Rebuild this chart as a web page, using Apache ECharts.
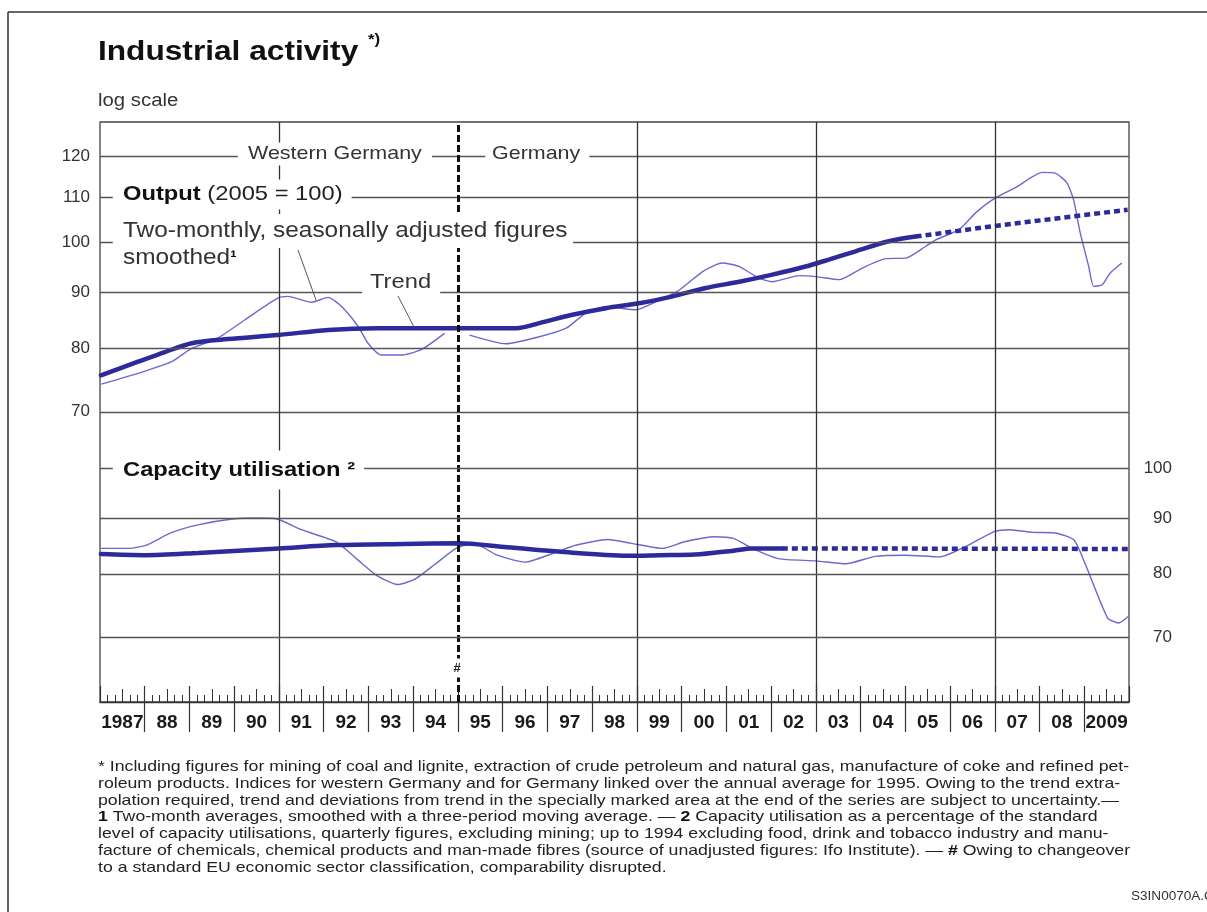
<!DOCTYPE html>
<html>
<head>
<meta charset="utf-8">
<script src="https://cdn.jsdelivr.net/npm/echarts@6/dist/echarts.min.js"></script>
<style>
html,body{margin:0;padding:0;background:#fff;}
#chart{width:1207px;height:912px;}
</style>
</head>
<body>
<div id="chart"></div>
<script>
// ---------------- data ----------------
const yearLabels = ['1987','88','89','90','91','92','93','94','95','96','97','98','99','00','01','02','03','04','05','06','07','08','2009'];
const outputTicks = [70, 80, 90, 100, 110, 120];
const capacityTicks = [70, 80, 90, 100];
const verticalGridYears = [1991, 1999, 2003, 2007];
const breakYear = 1995;

// Output, two-monthly smoothed (log scale, 2005 = 100)
const outThinYears = [1987.03,1987.85,1988.60,1989.05,1989.64,1990.24,1990.98,1991.20,1991.73,1992.10,1992.40,1992.77,1992.99,1993.29,1993.73,1994.18,1994.70,1995.00,1995.26,1996.08,1996.82,1997.42,1997.86,1998.31,1998.98,1999.43,1999.95,2000.47,2000.91,2001.29,2001.73,2002.03,2002.63,2003.00,2003.52,2004.04,2004.56,2005.01,2005.45,2005.68,2006.20,2006.57,2006.98,2007.46,2008.06,2008.35,2008.61,2008.76,2008.91,2009.10,2009.21,2009.40,2009.58,2009.84];
const outThinValues = [74.2,75.9,77.8,80.0,81.8,85.0,89.0,89.3,88.2,89.1,87.4,83.8,80.9,78.9,78.9,79.8,82.6,null,82.3,80.8,82.0,83.5,86.2,87.4,86.8,88.3,90.5,94.1,95.8,95.1,92.8,92.1,93.3,93.1,92.5,94.8,96.7,96.8,99.2,100.6,102.8,106.5,109.7,112.3,116.0,115.8,113.5,109.5,102.1,95.1,91.2,91.5,93.8,95.8];

// Output trend
const outTrendYears = [1987.02,1987.85,1988.45,1989.05,1989.86,1990.98,1992.10,1993.21,1994.33,1995.33,1996.30,1996.82,1997.56,1998.31,1999.05,1999.80,2000.54,2001.29,2002.03,2002.77,2003.29,2003.89,2004.63,2005.23];
const outTrendValues = [75.6,77.8,79.4,80.9,81.6,82.3,83.2,83.5,83.5,83.5,83.5,84.4,85.9,87.1,88.0,89.3,90.9,92.1,93.5,95.1,96.5,98.2,100.3,101.3];
// Output trend, extrapolated (uncertain area)
const outExtYears = [2005.23,2007.0,2009.97];
const outExtValues = [101.3,103.6,107.2];

// Capacity utilisation, quarterly
const capThinYears = [1987.02,1987.65,1988.04,1988.58,1989.19,1989.96,1990.5,1990.96,1991.5,1992.27,1992.73,1993.19,1993.65,1994.04,1994.5,1994.96,1995.35,1995.88,1996.5,1997.12,1997.65,1998.35,1998.88,1999.57,2000.07,2000.74,2001.16,2001.58,2002.16,2003.0,2003.67,2004.33,2005.0,2005.76,2006.34,2007.0,2007.34,2007.85,2008.35,2008.77,2009.02,2009.52,2009.77,2009.98];
const capThinValues = [84.4,84.4,85.0,87.2,88.7,89.8,90.0,89.8,87.8,85.6,82.6,79.7,78.2,79.1,81.7,84.4,85.3,83.2,82.0,83.5,85.0,86.0,85.3,84.4,85.6,86.5,86.2,84.4,82.6,82.2,81.7,83.0,83.2,82.9,84.7,87.5,87.8,87.3,87.2,85.9,81.7,72.9,72.1,73.1];

// Capacity utilisation trend
const capTrendYears = [1987.02,1988.0,1989.19,1991.0,1992.27,1993.8,1995.0,1996.1,1997.65,1998.88,1999.5,2000.3,2001.16,2001.58,2002.24];
const capTrendValues = [83.4,83.2,83.6,84.4,85.0,85.2,85.3,84.6,83.6,83.1,83.2,83.3,84.0,84.4,84.4];
const capExtYears = [2002.24,2009.98];
const capExtValues = [84.4,84.3];

// ---------------- helpers ----------------
const zip = (xs, ys) => xs.map((x, i) => [x, ys[i]]);
const FIRST_YEAR = 1987, LAST_YEAR = 2010;
const sepValues = [], midValues = [];
for (let i = 0; i < yearLabels.length; i++) {
  if (i > 0) sepValues.push(FIRST_YEAR + i);
  midValues.push(FIRST_YEAR + i + 0.5);
}

const FONT = '"Liberation Sans", Arial, Helvetica, sans-serif';
const THIN = '#6c68cf';
const THICK = '#2d2b9c';
const GRID = '#555';
const SX = 1.13; // horizontal stretch of the reference typography

// x = where the visible text starts; the white box extends by the padding around it
function txt(x, y, text, size, opts) {
  opts = opts || {};
  const sx = opts.sx || SX;
  const pad = opts.pad || [0, 0, 0, 0];
  const style = {
    text: text, x: 0, y: 0,
    fontFamily: FONT, fontSize: size, fontWeight: opts.weight || 'normal',
    fill: opts.color || '#222',
    align: opts.align || 'left', textAlign: opts.align || 'left',
    verticalAlign: opts.valign || 'middle', textVerticalAlign: opts.valign || 'middle'
  };
  let ox = 0, oy = 0;
  if (opts.bg) {
    style.backgroundColor = '#fff'; style.padding = pad;
    if ((opts.align || 'left') === 'left') ox = pad[3] * sx;
    oy = (pad[0] - pad[2]) / 2;
  }
  if (opts.rich) style.rich = opts.rich;
  if (opts.lineHeight) style.lineHeight = opts.lineHeight;
  return { type: 'text', x: x - ox, y: y - oy, scaleX: sx, z: 100, silent: true, style: style };
}
function seg(x1, y1, x2, y2, color, w) {
  return { type: 'line', z: 100, silent: true, shape: { x1, y1, x2, y2 }, style: { stroke: color || '#555', lineWidth: w || 1 } };
}

const footnote = [
  '* Including figures for mining of coal and lignite, extraction of crude petroleum and natural gas, manufacture of coke and refined pet-',
  'roleum products. Indices for western Germany and for Germany linked over the annual average for 1995. Owing to the trend extra-',
  'polation required, trend and deviations from trend in the specially marked area at the end of the series are subject to uncertainty.\u2014',
  '{b|1} Two-month averages, smoothed with a three-period moving average. \u2014 {b|2} Capacity utilisation as a percentage of the standard',
  'level of capacity utilisations, quarterly figures, excluding mining; up to 1994 excluding food, drink and tobacco industry and manu-',
  'facture of chemicals, chemical products and man-made fibres (source of unadjusted figures: Ifo Institute). \u2014 {b|#} Owing to changeover',
  'to a standard EU economic sector classification, comparability disrupted.'
].join('\n');

const chart = echarts.init(document.getElementById('chart'), null, { renderer: 'canvas' });

const option = {
  animation: false,
  backgroundColor: '#fff',
  grid: { left: 100, right: 78, top: 122, bottom: 210, show: true, borderColor: '#444', borderWidth: 1.3, backgroundColor: 'transparent' },
  xAxis: [
    {
      type: 'value', min: FIRST_YEAR, max: LAST_YEAR, interval: 1, position: 'bottom',
      axisLine: { show: true, onZero: false, lineStyle: { color: '#333', width: 1.3 } },
      axisTick: { show: true, inside: true, length: 16, lineStyle: { color: '#333', width: 1.2 } },
      minorTick: { show: true, splitNumber: 6, length: 7, lineStyle: { color: '#333', width: 1 } },
      axisLabel: { show: false }, splitLine: { show: false }, minorSplitLine: { show: false }
    },
    {
      type: 'value', min: FIRST_YEAR, max: LAST_YEAR, position: 'bottom',
      axisLine: { show: false, onZero: false },
      axisTick: { show: true, inside: false, length: 30, customValues: sepValues, lineStyle: { color: '#333', width: 1.2 } },
      axisLabel: {
        show: true, customValues: midValues, margin: 11,
        formatter: v => yearLabels[Math.round(v - FIRST_YEAR - 0.5)],
        fontFamily: FONT, fontSize: 19, fontWeight: 'bold', color: '#1a1a1a'
      },
      splitLine: { show: false }
    },
    {
      type: 'value', min: FIRST_YEAR, max: LAST_YEAR, position: 'bottom',
      axisLine: { show: false, onZero: false },
      axisTick: { show: true, inside: true, length: 13, customValues: midValues, lineStyle: { color: '#333', width: 1 } },
      axisLabel: { show: false }, splitLine: { show: false }
    }
  ],
  yAxis: [
    { type: 'log', min: 37.95, max: 129.0, show: false, splitLine: { show: false } },
    { type: 'log', min: 61.04, max: 207.5, position: 'right', show: false, splitLine: { show: false } }
  ],
  series: [
    {
      name: 'grid-output', type: 'line', xAxisIndex: 0, yAxisIndex: 0, z: 1, silent: true,
      data: [[FIRST_YEAR, 100]], symbol: 'none', lineStyle: { opacity: 0 },
      markLine: {
        silent: true, symbol: ['none', 'none'], animation: false,
        label: { show: true, position: 'start', distance: 10, formatter: p => String(p.value), fontFamily: FONT, fontSize: 17, color: '#333' },
        lineStyle: { color: GRID, width: 1.3, type: 'solid' },
        emphasis: { disabled: true },
        data: outputTicks.map(v => ({ yAxis: v }))
          .concat(verticalGridYears.map(v => ({ xAxis: v, label: { show: false }, lineStyle: { color: '#333', width: 1.3, type: 'solid' } })))
          .concat([{ xAxis: breakYear, label: { show: false }, lineStyle: { color: '#111', width: 3, type: [7, 3] } }])
      }
    },
    {
      name: 'grid-capacity', type: 'line', xAxisIndex: 0, yAxisIndex: 1, z: 1, silent: true,
      data: [[FIRST_YEAR, 80]], symbol: 'none', lineStyle: { opacity: 0 },
      markLine: {
        silent: true, symbol: ['none', 'none'], animation: false,
        label: { show: true, position: 'end', distance: 43, align: 'right', formatter: p => String(p.value), fontFamily: FONT, fontSize: 17, color: '#333' },
        lineStyle: { color: GRID, width: 1.3, type: 'solid' },
        emphasis: { disabled: true },
        data: capacityTicks.map(v => ({ yAxis: v }))
      }
    },
    {
      name: 'Output, two-monthly', type: 'line', xAxisIndex: 0, yAxisIndex: 0, z: 3,
      data: zip(outThinYears, outThinValues), symbol: 'none', smooth: 0.2, connectNulls: false,
      lineStyle: { color: THIN, width: 1.4 }
    },
    {
      name: 'Output trend', type: 'line', xAxisIndex: 0, yAxisIndex: 0, z: 4,
      data: zip(outTrendYears, outTrendValues), symbol: 'none', smooth: 0.3,
      lineStyle: { color: THICK, width: 4.5, cap: 'round' }
    },
    {
      name: 'Output trend (extrapolated)', type: 'line', xAxisIndex: 0, yAxisIndex: 0, z: 4,
      data: zip(outExtYears, outExtValues), symbol: 'none',
      lineStyle: { color: THICK, width: 4.5, type: [6, 4] }
    },
    {
      name: 'Capacity utilisation', type: 'line', xAxisIndex: 0, yAxisIndex: 1, z: 3,
      data: zip(capThinYears, capThinValues), symbol: 'none', smooth: 0.2,
      lineStyle: { color: THIN, width: 1.4 }
    },
    {
      name: 'Capacity trend', type: 'line', xAxisIndex: 0, yAxisIndex: 1, z: 4,
      data: zip(capTrendYears, capTrendValues), symbol: 'none', smooth: 0.3,
      lineStyle: { color: THICK, width: 4.5, cap: 'round' }
    },
    {
      name: 'Capacity trend (extrapolated)', type: 'line', xAxisIndex: 0, yAxisIndex: 1, z: 4,
      data: zip(capExtYears, capExtValues), symbol: 'none',
      lineStyle: { color: THICK, width: 4.5, type: [6, 4] }
    }
  ],
  graphic: [
    seg(8, 12, 1207, 12, '#333', 1.5),
    seg(8, 12, 8, 912, '#333', 1.5),
    txt(98, 52, 'Industrial activity', 28, { weight: 'bold', color: '#111' }),
    txt(368, 40, '*)', 15, { weight: 'bold', color: '#111' }),
    txt(98, 101, 'log scale', 18, { color: '#333' }),
    txt(248, 152, 'Western Germany', 19, { color: '#333', bg: true, pad: [0, 9, 4, 9] }),
    txt(492, 152, 'Germany', 19, { color: '#333', bg: true, pad: [0, 8, 4, 6] }),
    txt(123, 194, '{b|Output} (2005 = 100)', 21, { color: '#222', bg: true, pad: [4, 8, 5, 9],
      rich: { b: { fontFamily: FONT, fontSize: 21, fontWeight: 'bold', fill: '#111' } } }),
    txt(123, 231, 'Two-monthly, seasonally adjusted figures', 21.6, { color: '#333', bg: true, pad: [6, 5, 6, 9] }),
    txt(123, 258, 'smoothed{s|\u00b9}', 21.6, { color: '#333', bg: true, pad: [1, 5, 1, 4],
      rich: { s: { fontFamily: FONT, fontSize: 17, fontWeight: 'bold', fill: '#111' } } }),
    txt(370, 281, 'Trend', 21, { color: '#333', bg: true, pad: [3, 8, 5, 7] }),
    txt(123, 468, 'Capacity utilisation \u00b2', 21, { weight: 'bold', color: '#111', bg: true, pad: [7, 8, 11, 9] }),
    txt(457, 668, '#', 13, { weight: 'bold', color: '#222', align: 'center', bg: true, pad: [3, 1, 3, 1], sx: 1 }),
    seg(298, 250, 316, 300, '#555', 1),
    seg(398, 296, 414, 327, '#555', 1),
    txt(98, 758.5, footnote, 15, { color: '#222', valign: 'top', lineHeight: 16.8, sx: 1.18,
      rich: { b: { fontFamily: FONT, fontSize: 15, fontWeight: 'bold', fill: '#111', lineHeight: 16.8 } } }),
    txt(1131, 897, 'S3IN0070A.Char', 12, { color: '#333' })
  ]
};

chart.setOption(option);
</script>
</body>
</html>
